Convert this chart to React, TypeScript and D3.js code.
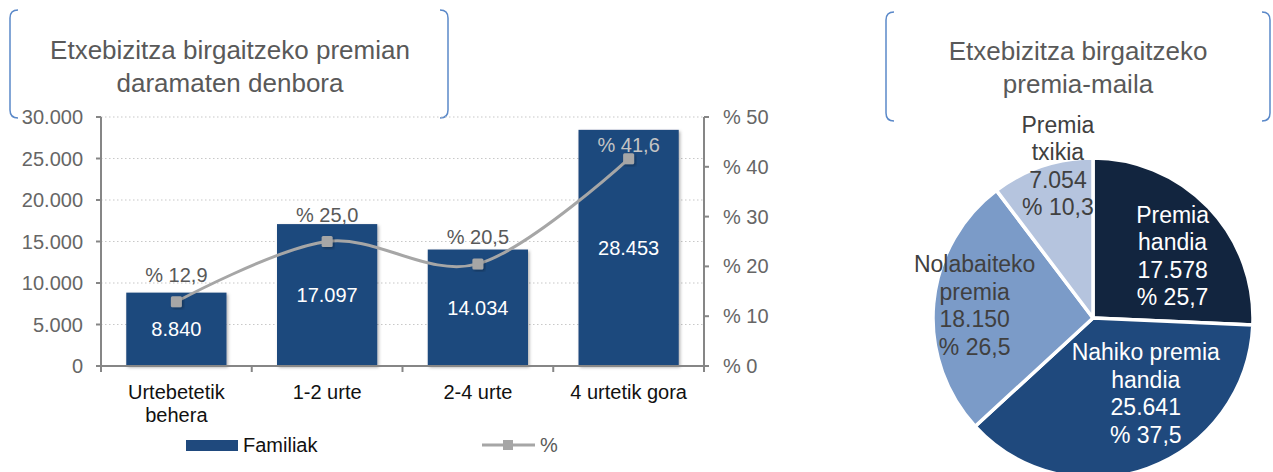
import { useRef, useEffect } from 'react';
import * as d3 from 'd3';

// Bar + line chart data
const categories = ['Urtebetetik behera', '1-2 urte', '2-4 urte', '4 urtetik gora'];
const familiak = [8840, 17097, 14034, 28453];
const percents = [12.9, 25.0, 20.5, 41.6];
const leftTicks = [0, 5000, 10000, 15000, 20000, 25000, 30000];
const rightTicks = [0, 10, 20, 30, 40, 50];

// Pie data
const pieLabels = ['Premia handia', 'Nahiko premia handia', 'Nolabaiteko premia', 'Premia txikia'];
const pieValues = [17578, 25641, 18150, 7054];
const piePercents = [25.7, 37.5, 26.5, 10.3];
const pieColors = ['#12253f', '#1f497d', '#7b9bc8', '#b5c4de'];

const FONT = '"Liberation Sans", Arial, sans-serif';
const fmtNum = (v: number) => d3.format(',')(v).replace(/,/g, '.');
const fmtPct = (v: number) => '% ' + v.toFixed(1).replace('.', ',');

export default function App() {
    const svgRef = useRef<SVGSVGElement>(null);

    useEffect(() => {
        if (!svgRef.current) return;
        const width = 1273;
        const height = 472;
        const svg = d3.select(svgRef.current);
        svg.selectAll('*').remove();
        svg.attr('width', width).attr('height', height);

        const defs = svg.append('defs');
        const shadow = defs.append('filter').attr('id', 'shadow')
            .attr('x', '-20%').attr('y', '-20%').attr('width', '140%').attr('height', '140%');
        shadow.append('feDropShadow').attr('dx', 1.5).attr('dy', 1.5)
            .attr('stdDeviation', 1.5).attr('flood-color', '#000').attr('flood-opacity', 0.3);

        // Bracket-style title boxes
        const bracket = (x0: number, x1: number, y0: number, y1: number) => {
            const r = 8;
            const p = d3.path();
            p.moveTo(x0 + r, y0);
            p.quadraticCurveTo(x0, y0, x0, y0 + r);
            p.lineTo(x0, y1 - r);
            p.quadraticCurveTo(x0, y1, x0 + r, y1);
            p.moveTo(x1 - r, y0);
            p.quadraticCurveTo(x1, y0, x1, y0 + r);
            p.lineTo(x1, y1 - r);
            p.quadraticCurveTo(x1, y1, x1 - r, y1);
            svg.append('path').attr('d', p.toString())
                .attr('fill', 'none').attr('stroke', '#5b89c9').attr('stroke-width', 1.5);
        };
        const title = (lines: string[], cx: number, y0: number) => {
            lines.forEach((l, i) => {
                svg.append('text')
                    .attr('x', cx).attr('y', y0 + i * 33)
                    .attr('text-anchor', 'middle')
                    .attr('font-family', FONT).attr('font-size', '26px')
                    .attr('fill', '#595959')
                    .text(l);
            });
        };
        bracket(10, 448, 10, 118);
        title(['Etxebizitza birgaitzeko premian', 'daramaten denbora'], 230, 59);
        bracket(886, 1270, 12, 121);
        title(['Etxebizitza birgaitzeko', 'premia-maila'], 1078, 60);

        // ---- Bar + line chart ----
        const plot = { left: 101, right: 704, top: 117, bottom: 366 };
        const x = d3.scaleBand().domain(categories).range([plot.left, plot.right]).paddingInner(0.335).paddingOuter(0.1675);
        const xOuter = d3.scaleBand().domain(categories).range([plot.left, plot.right]);
        const yL = d3.scaleLinear().domain([0, 30000]).range([plot.bottom, plot.top]);
        const yR = d3.scaleLinear().domain([0, 50]).range([plot.bottom, plot.top]);

        // gridlines
        svg.append('g').selectAll('line')
            .data(leftTicks.filter(t => t > 0))
            .enter().append('line')
            .attr('x1', plot.left).attr('x2', plot.right)
            .attr('y1', d => yL(d)).attr('y2', d => yL(d))
            .attr('stroke', '#c8c8c8').attr('stroke-width', 1.2)
            .attr('stroke-dasharray', '1.5,2.5');

        // bars
        svg.append('g').selectAll('rect')
            .data(familiak)
            .enter().append('rect')
            .attr('x', (_, i) => x(categories[i]) ?? 0)
            .attr('y', d => yL(d))
            .attr('width', x.bandwidth())
            .attr('height', d => plot.bottom - yL(d))
            .attr('fill', '#1f497d')
            .attr('filter', 'url(#shadow)');

        // bar value labels
        svg.append('g').selectAll('text')
            .data(familiak)
            .enter().append('text')
            .attr('x', (_, i) => (x(categories[i]) ?? 0) + x.bandwidth() / 2)
            .attr('y', d => (yL(d) + plot.bottom) / 2)
            .attr('dy', '0.35em')
            .attr('text-anchor', 'middle')
            .attr('font-family', FONT).attr('font-size', '20px')
            .attr('fill', '#ffffff')
            .text(d => fmtNum(d));

        // axes
        const axisColor = '#868686';
        const axes = svg.append('g').attr('stroke', axisColor).attr('stroke-width', 2);
        axes.append('line').attr('x1', plot.left).attr('x2', plot.left).attr('y1', plot.top).attr('y2', plot.bottom + 1);
        axes.append('line').attr('x1', plot.right).attr('x2', plot.right).attr('y1', plot.top).attr('y2', plot.bottom + 1);
        axes.append('line').attr('x1', plot.left).attr('x2', plot.right).attr('y1', plot.bottom).attr('y2', plot.bottom);
        leftTicks.forEach(t => {
            axes.append('line').attr('x1', plot.left - 5).attr('x2', plot.left).attr('y1', yL(t)).attr('y2', yL(t));
        });
        rightTicks.forEach(t => {
            axes.append('line').attr('x1', plot.right).attr('x2', plot.right + 5).attr('y1', yR(t)).attr('y2', yR(t));
        });
        categories.forEach(c => {
            const bx = xOuter(c) ?? 0;
            axes.append('line').attr('x1', bx).attr('x2', bx).attr('y1', plot.bottom).attr('y2', plot.bottom + 6);
        });
        axes.append('line').attr('x1', plot.right).attr('x2', plot.right).attr('y1', plot.bottom).attr('y2', plot.bottom + 6);

        svg.append('g').selectAll('text')
            .data(leftTicks)
            .enter().append('text')
            .attr('x', plot.left - 18).attr('y', d => yL(d))
            .attr('dy', '0.35em').attr('text-anchor', 'end')
            .attr('font-family', FONT).attr('font-size', '20px').attr('fill', '#666666')
            .text(d => fmtNum(d));
        svg.append('g').selectAll('text')
            .data(rightTicks)
            .enter().append('text')
            .attr('x', plot.right + 19).attr('y', d => yR(d))
            .attr('dy', '0.35em').attr('text-anchor', 'start')
            .attr('font-family', FONT).attr('font-size', '20px').attr('fill', '#666666')
            .text(d => '% ' + d);

        // category labels
        categories.forEach(c => {
            const cx = (xOuter(c) ?? 0) + xOuter.bandwidth() / 2;
            const words = c === 'Urtebetetik behera' ? ['Urtebetetik', 'behera'] : [c];
            words.forEach((w, i) => {
                svg.append('text')
                    .attr('x', cx).attr('y', 392 + i * 23)
                    .attr('dy', '0.35em').attr('text-anchor', 'middle')
                    .attr('font-family', FONT).attr('font-size', '20px').attr('fill', '#111111')
                    .text(w);
            });
        });

        // line series
        const lineGray = '#a6a6a6';
        const pts: [number, number][] = percents.map((p, i) => [
            (x(categories[i]) ?? 0) + x.bandwidth() / 2, yR(p),
        ]);
        const line = d3.line().curve(d3.curveCardinal.tension(0));
        svg.append('path').attr('d', line(pts) ?? '')
            .attr('fill', 'none').attr('stroke', lineGray).attr('stroke-width', 3);
        svg.append('g').selectAll('rect')
            .data(pts)
            .enter().append('rect')
            .attr('x', d => d[0] - 5.5).attr('y', d => d[1] - 5.5)
            .attr('width', 11).attr('height', 11).attr('rx', 1.5)
            .attr('fill', lineGray).attr('filter', 'url(#shadow)');

        // percent labels
        svg.append('g').selectAll('text')
            .data(percents)
            .enter().append('text')
            .attr('x', (_, i) => pts[i][0])
            .attr('y', (_, i) => Math.max(pts[i][1] - 27, plot.top + 28))
            .attr('dy', '0.35em').attr('text-anchor', 'middle')
            .attr('font-family', FONT).attr('font-size', '20px')
            .attr('fill', (_, i) => Math.max(pts[i][1] - 27, plot.top + 28) > yL(familiak[i]) ? '#c4c4c4' : '#595959')
            .text(d => fmtPct(d));

        // legend
        svg.append('rect').attr('x', 186).attr('y', 440).attr('width', 52).attr('height', 11).attr('fill', '#1f497d');
        svg.append('text').attr('x', 243).attr('y', 445).attr('dy', '0.35em')
            .attr('font-family', FONT).attr('font-size', '20px').attr('fill', '#111111').text('Familiak');
        svg.append('line').attr('x1', 482).attr('x2', 535).attr('y1', 445).attr('y2', 445)
            .attr('stroke', lineGray).attr('stroke-width', 3);
        svg.append('rect').attr('x', 503).attr('y', 440).attr('width', 10).attr('height', 10).attr('fill', lineGray);
        svg.append('text').attr('x', 540).attr('y', 445).attr('dy', '0.35em')
            .attr('font-family', FONT).attr('font-size', '20px').attr('fill', '#595959').text('%');

        // ---- Pie ----
        const cx = 1093, cy = 318, r = 160;
        const pie = d3.pie<number>().sort(null).value(d => d);
        const arcs = pie(pieValues);
        const arc = d3.arc<d3.PieArcDatum<number>>().innerRadius(0).outerRadius(r);
        const pg = svg.append('g').attr('transform', `translate(${cx},${cy})`);
        pg.selectAll('path')
            .data(arcs)
            .enter().append('path')
            .attr('d', d => arc(d) ?? '')
            .attr('fill', (_, i) => pieColors[i])
            .attr('stroke', '#ffffff').attr('stroke-width', 3.5)
            .attr('stroke-linejoin', 'round');

        // label anchors: [angle (deg, clockwise from top), distance from centre]
        const labelAnchor: [number, number][] = [[52, 101], [145, 92], [276, 119], [347, 156]];
        const labelFill = ['#ffffff', '#ffffff', '#404040', '#404040'];
        const labelLines = [
            ['Premia', 'handia'],
            ['Nahiko premia', 'handia'],
            ['Nolabaiteko', 'premia'],
            ['Premia', 'txikia'],
        ];
        arcs.forEach((_, i) => {
            const [ang, dist] = labelAnchor[i];
            const a = (ang * Math.PI) / 180;
            const lx = Math.sin(a) * dist;
            const ly = -Math.cos(a) * dist;
            const lines = [...labelLines[i], fmtNum(pieValues[i]), fmtPct(piePercents[i])];
            lines.forEach((l, j) => {
                pg.append('text')
                    .attr('x', lx).attr('y', ly + (j - 1.5) * 27.5)
                    .attr('dy', '0.35em').attr('text-anchor', 'middle')
                    .attr('font-family', FONT).attr('font-size', '23px')
                    .attr('fill', labelFill[i])
                    .text(l);
            });
        });
    }, []);

    return (
        <div style={{ position: 'absolute', left: 0, top: 0, background: '#ffffff' }}>
            <svg ref={svgRef} style={{ display: 'block' }} />
        </div>
    );
}
